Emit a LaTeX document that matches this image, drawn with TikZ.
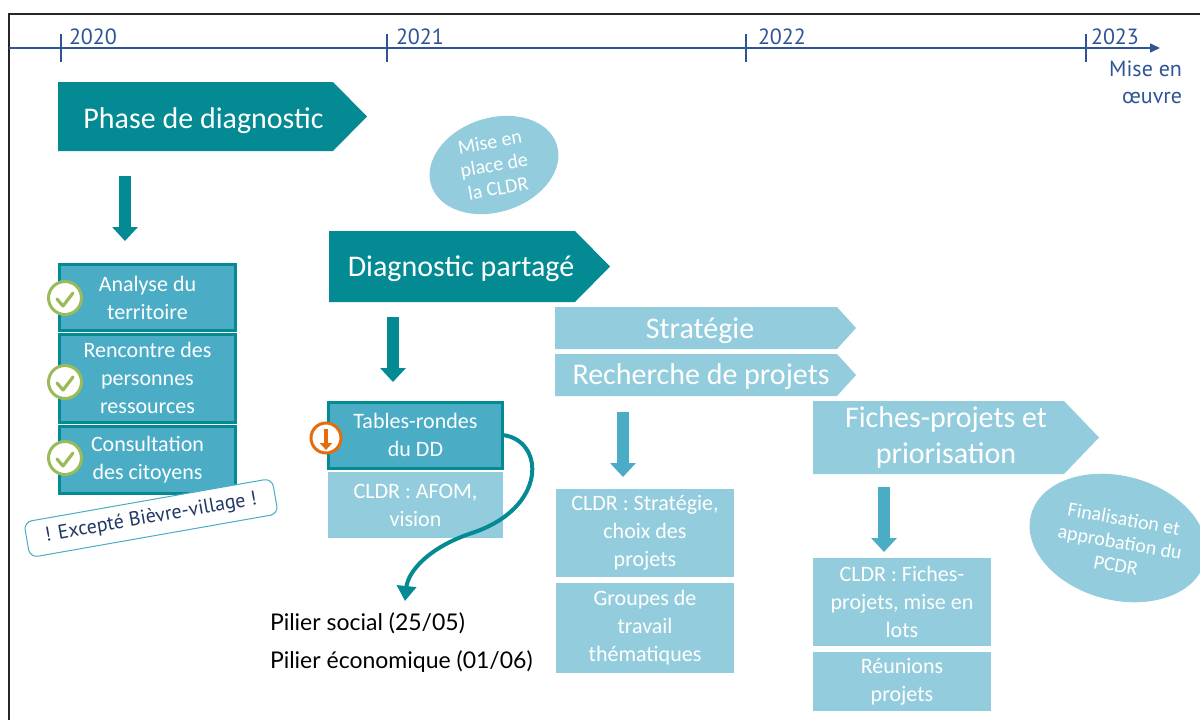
\documentclass[tikz,border=0pt]{standalone}
\usepackage{fontspec}
\setmainfont{Carlito}
\newfontfamily\yearfont{PT Sans}
\newfontfamily\pilfont{Lato}
\usetikzlibrary{arrows.meta,shapes.geometric}
\definecolor{teal1}{HTML}{038A93}
\definecolor{midblue}{HTML}{4BACC6}
\definecolor{lightblue}{HTML}{93CDDD}
\definecolor{navy}{HTML}{2F5496}
\definecolor{navytext}{HTML}{203864}
\definecolor{checkgreen}{HTML}{9BBB59}
\definecolor{orange1}{HTML}{E46C0A}
\definecolor{framegray}{HTML}{262626}
\tikzset{
  every node/.style={inner sep=0pt, outer sep=0pt},
  chevtext/.style={text=white, font=\fontsize{30}{36}\selectfont, align=center},
  boxtext/.style={text=white, font=\fontsize{22}{28}\selectfont, align=center},
  darkbox/.style={boxtext, fill=midblue, draw=teal1, line width=3pt},
  lightbox/.style={boxtext, fill=lightblue},
  downarrow/.style={line width=12pt, -{Triangle[width=25pt,length=14pt]}},
  yearlbl/.style={text=navy, font=\yearfont\fontsize{22}{26}\selectfont, anchor=base west},
  checkcirc/.style={circle, draw=checkgreen, line width=3pt, fill=white, minimum size=33pt},
  checkmk/.style={draw=checkgreen, line width=3.2pt, line cap=round, line join=round},
  bubble/.style={ellipse, fill=lightblue},
  bubbletext/.style={text=white, font=\fontsize{20}{23.5}\selectfont, align=center},
  piliertext/.style={font=\pilfont\fontsize{23}{28}\selectfont, anchor=base west, text=black}
}
\begin{document}
\begin{tikzpicture}[x=1pt,y=-1pt]
\useasboundingbox (0,0) rectangle (1200,720);
\fill[white] (0,0) rectangle (1200,720);
% frame
\draw[framegray, line width=2pt] (9,722) -- (9,13.5) -- (1202,13.5);
% timeline
\coordinate (tl0) at (9,48);
\coordinate (tl1) at (1160,48);
\draw[navy, line width=1.5pt, -{Triangle[width=9pt,length=10pt]}] (tl0) -- (tl1);
\foreach \x in {61,387,746,1086} \draw[navy, line width=1.5pt] (\x,34) -- (\x,62);
\node[yearlbl] (y20) at (69,45) {2020};
\node[yearlbl] (y21) at (396,45) {2021};
\node[yearlbl] (y22) at (758,45) {2022};
\node[yearlbl] (y23) at (1091,45) {2023};
\node[yearlbl, anchor=base east] (mise1) at (1182,76) {Mise en};
\node[yearlbl, anchor=base east] (mise2) at (1182,103) {œuvre};

% chevrons
\fill[teal1] (58,82) -- (333,82) -- (367,116.5) -- (333,151) -- (58,151) -- cycle;
\node[chevtext, anchor=base] (phase) at (203.5,128) {Phase de diagnostic};
\fill[teal1] (329,231) -- (575,231) -- (610,266.5) -- (575,302) -- (329,302) -- cycle;
\node[chevtext, anchor=base] (diag) at (461,276) {Diagnostic partagé};
\fill[lightblue] (555,307) -- (837,307) -- (856,328) -- (837,349) -- (555,349) -- cycle;
\node[chevtext, anchor=base] (strat) at (700,338) {Stratégie};
\fill[lightblue] (555,354) -- (837,354) -- (856,375) -- (837,396) -- (555,396) -- cycle;
\node[chevtext, anchor=base] (rech) at (701,384) {Recherche de projets};
\fill[lightblue] (813,401) -- (1064,401) -- (1099,437.5) -- (1064,474) -- (813,474) -- cycle;
\node[chevtext] (fiches) at (946,437) {Fiches-projets et\\priorisation};

% down arrows
\coordinate (d1s) at (125,176); \coordinate (d1e) at (125,241);
\coordinate (d2s) at (393,317); \coordinate (d2e) at (393,382);
\coordinate (d3s) at (623,412); \coordinate (d3e) at (623,477);
\coordinate (d4s) at (884,487); \coordinate (d4e) at (884,552);
\draw[teal1, downarrow] (d1s) -- (d1e);
\draw[teal1, downarrow] (d2s) -- (d2e);
\draw[midblue, downarrow] (d3s) -- (d3e);
\draw[midblue, downarrow] (d4s) -- (d4e);

% bubbles
\node[bubble, minimum width=132pt, minimum height=94pt, rotate=18] (cldrb) at (494,165) {};
\node[bubbletext, rotate=10] (cldrt) at (494,165) {Mise en\\place de\\la CLDR};
\node[bubble, minimum width=180pt, minimum height=124pt, rotate=-15] (finb) at (1118,538) {};
\node[bubbletext, rotate=-10] (fint) at (1120,542) {Finalisation et\\approbation du\\PCDR};

% left stack
\node[darkbox, minimum width=176pt, minimum height=66pt] (ana) at (147.5,297.5) {Analyse du\\territoire};
\node[darkbox, minimum width=176pt, minimum height=88pt] (ren) at (147.5,378) {Rencontre des\\personnes\\ressources};
\node[darkbox, minimum width=176pt, minimum height=67pt] (con) at (147.5,459.5) {Consultation\\des citoyens};
\foreach \n/\y in {c1/298, c2/382, c3/458}{
  \node[checkcirc] (\n) at (65,\y) {};
  \draw[checkmk] ([shift={(-8,1)}]\n.center) -- ++(6,7) -- ++(10,-13);
}
\node[draw=midblue, line width=1pt, fill=white, rounded corners=8pt,
      minimum width=252pt, minimum height=36pt, rotate=10,
      text=navytext, font=\yearfont\fontsize{20}{24}\selectfont] (exc) at (151,518) {! Excepté Bièvre-village !};

% middle
\node[darkbox, minimum width=174pt, minimum height=66pt] (tr) at (415.5,435) {Tables-rondes\\du DD};
\node[lightbox, minimum width=175pt, minimum height=66pt] (afom) at (415.5,505) {CLDR : AFOM,\\vision};
\node[circle, draw=orange1, line width=3pt, fill=white, minimum size=30pt] (warn) at (326,438) {};
\draw[orange1, line width=4pt, -{Triangle[width=12pt,length=7pt]}] ([yshift=9pt]warn.center) -- ([yshift=-12pt]warn.center);
\coordinate (cmid) at (472,533);
\coordinate (ptip) at (405,601);
\draw[teal1, line width=4pt, -{Triangle[width=19pt,length=15pt]}]
  (tr.east) .. controls (545,440) and (548,508) .. (cmid)
  .. controls (428,547.5) and (408,572) .. (ptip);
\node[piliertext] (p1) at (270,630) {Pilier social (25/05)};
\node[piliertext] (p2) at (270,668) {Pilier économique (01/06)};

% right boxes
\node[lightbox, minimum width=178pt, minimum height=88pt] (cstrat) at (645,533) {CLDR : Stratégie,\\choix des\\projets};
\node[lightbox, minimum width=178pt, minimum height=90pt] (grp) at (645,628) {Groupes de\\travail\\thématiques};
\node[lightbox, minimum width=178pt, minimum height=88pt] (cfich) at (902,602) {CLDR : Fiches-\\projets, mise en\\lots};
\node[lightbox, minimum width=178pt, minimum height=59pt] (reu) at (902,681.5) {Réunions\\projets};
\end{tikzpicture}
\end{document}
